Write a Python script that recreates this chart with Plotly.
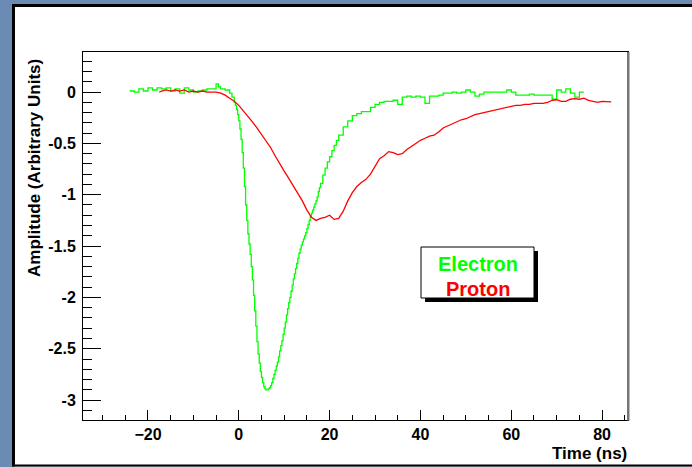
import plotly.graph_objects as go

# Electron pulse (ns, arbitrary units), drawn as a step histogram
electron_t = [-24, -23, -22, -21, -20, -19, -18, -17, -16, -15, -14, -13, -12, -11,
              -10, -9, -8, -7, -6, -5, -4.5, -4, -3, -2, -1.5,
              -1.0, -0.75, -0.5, -0.25, 0.0, 0.25, 0.5, 0.75, 1.0, 1.25, 1.5, 1.75,
              2.0, 2.25, 2.5, 2.75, 3.0, 3.25, 3.5, 3.75, 4.0, 4.25, 4.5, 4.75,
              5.0, 5.25, 5.5, 5.75, 6.0, 6.25, 6.5, 6.75, 7.0, 7.25, 7.5, 7.75,
              8.0, 8.25, 8.5, 8.75, 9.0, 9.25, 9.5, 9.75, 10.0, 10.25, 10.5, 10.75,
              11.0, 11.25, 11.5, 11.75, 12.0, 12.25, 12.5, 12.75, 13.0, 13.25, 13.5,
              13.75, 14.0, 14.25, 14.5, 14.75, 15.0, 15.25, 15.5, 15.75, 16.0, 16.25,
              16.5, 16.75, 17.0, 17.25, 17.5, 17.75, 18.0,
              18.5, 19, 19.5, 20, 20.5, 21, 21.5, 22, 23, 24, 25, 26, 27, 28, 29, 30,
              31, 32, 33, 34, 35, 36, 37, 38, 39, 40, 41, 42, 43, 44, 45, 46, 47, 48,
              49, 50, 51, 52, 53, 54, 55, 56, 57, 58, 59, 60, 61, 62, 63, 64, 65, 66,
              67, 68, 69, 70, 71, 72, 73, 74, 75, 76]
electron_amp = [0.01, 0.0, 0.03, 0.01, 0.04, 0.02, 0.04, 0.03, 0.04, 0.01, 0.03, -0.01,
                0.04, 0.02, 0.0, 0.01, 0.02, 0.03, 0.03, 0.08, 0.05, 0.03, 0.02, -0.01,
                -0.05,
                -0.10, -0.13, -0.17, -0.22, -0.28, -0.36, -0.46, -0.59, -0.74, -0.92,
                -1.10, -1.25, -1.38, -1.48, -1.58, -1.70, -1.83, -1.98, -2.13, -2.28,
                -2.43, -2.55, -2.64, -2.72, -2.78, -2.83, -2.87, -2.89, -2.90, -2.90,
                -2.89, -2.88, -2.86, -2.83, -2.79, -2.75, -2.71, -2.67, -2.63, -2.58,
                -2.52, -2.47, -2.42, -2.36, -2.30, -2.24, -2.17, -2.11, -2.05, -2.00,
                -1.94, -1.88, -1.82, -1.77, -1.72, -1.67, -1.62, -1.57, -1.53, -1.49,
                -1.46, -1.43, -1.40, -1.37, -1.33, -1.29, -1.25, -1.21, -1.18, -1.15,
                -1.12, -1.09, -1.06, -1.02, -0.97, -0.93, -0.89,
                -0.81, -0.74, -0.68, -0.63, -0.57, -0.52, -0.47, -0.42, -0.34, -0.28,
                -0.23, -0.21, -0.19, -0.19, -0.15, -0.12, -0.10, -0.09, -0.09, -0.08,
                -0.12, -0.05, -0.04, -0.05, -0.04, -0.05, -0.11, -0.04, -0.04, -0.03,
                -0.01, -0.01, 0.0, -0.01, 0.0, 0.02, 0.0, -0.04, -0.02, 0.0, 0.0, 0.0,
                0.0, 0.0, 0.02, 0.0, -0.03, -0.03, -0.03, -0.02, -0.03, -0.03, -0.03,
                -0.03, -0.07, 0.02, 0.0, 0.03, -0.01, -0.05, 0.0, 0.0]

# Proton pulse
proton_t = [-17.5, -17, -16, -15, -14, -13, -12, -11, -10, -9, -8, -7, -6, -5, -4,
            -3, -2, -1, 0, 1, 2, 3, 4, 5, 6, 7, 8, 9, 10, 11, 12, 13, 14, 15, 16,
            17, 18, 19, 20, 21, 22, 23, 24, 25, 26, 27, 28, 29, 30, 31, 32, 33, 34,
            35, 36, 37, 38, 39, 40, 41, 42, 43, 44, 45, 46, 47, 48, 49, 50, 51, 52,
            53, 54, 55, 56, 57, 58, 59, 60, 61, 62, 63, 64, 65, 66, 67, 68, 69, 70,
            71, 72, 73, 74, 75, 76, 77, 78, 79, 80, 81, 82]
proton_amp = [0.0, 0.01, 0.02, 0.01, 0.02, 0.01, 0.02, 0.0, 0.01, 0.0, 0.01, 0.0, 0.0,
              0.0, -0.01, -0.03, -0.06, -0.09, -0.13, -0.18, -0.23, -0.29, -0.35,
              -0.41, -0.47, -0.54, -0.62, -0.70, -0.77, -0.84, -0.91, -0.98, -1.06,
              -1.15, -1.22, -1.25, -1.23, -1.22, -1.20, -1.24, -1.23, -1.16, -1.06,
              -0.98, -0.92, -0.88, -0.85, -0.80, -0.72, -0.65, -0.62, -0.58, -0.59,
              -0.61, -0.60, -0.56, -0.53, -0.50, -0.47, -0.45, -0.43, -0.42, -0.39,
              -0.35, -0.33, -0.31, -0.29, -0.27, -0.26, -0.24, -0.22, -0.21, -0.20,
              -0.19, -0.18, -0.17, -0.16, -0.15, -0.14, -0.13, -0.13, -0.12, -0.12,
              -0.11, -0.11, -0.11, -0.10, -0.08, -0.075, -0.09, -0.09, -0.07, -0.065,
              -0.07, -0.06, -0.08, -0.09, -0.10, -0.09, -0.095, -0.095]

x_range = [-34.3, 85.7]
y_range = [-3.194, 0.39]
x_ticks = [-20, 0, 20, 40, 60, 80]
y_ticks = [0, -0.5, -1, -1.5, -2, -2.5, -3]
y_ticktext = ["0", "-0.5", "-1", "-1.5", "-2", "-2.5", "-3"]

FONT = "Liberation Sans, Arial, Helvetica, sans-serif"
BLUE = "#6a8cb4"

fig = go.Figure()
fig.add_trace(go.Scatter(x=electron_t, y=electron_amp, mode="lines",
                         line=dict(color="#00ff00", width=1.3, shape="hv"),
                         name="Electron", showlegend=False))
fig.add_trace(go.Scatter(x=proton_t, y=proton_amp, mode="lines",
                         line=dict(color="#ff0000", width=1.3, shape="linear"),
                         name="Proton", showlegend=False))

# plot area in pixels: x 83..628, y 52..420
L, R, T, B = 83, 628, 52, 420
W, H = 692, 467


def px(xp):
    return (xp - L) / (R - L)


def py(yp):
    return (B - yp) / (B - T)


def box(x0, x1, y0, y1, color, layer="below"):
    return dict(type="rect", xref="paper", yref="paper", layer=layer,
                x0=px(x0), x1=px(x1), y0=py(y0), y1=py(y1),
                fillcolor=color, line=dict(width=0))


shapes = [
    # blue surround on the left, top and bottom of the white canvas
    box(-10, 12, -10, H + 10, BLUE),
    box(-10, W + 10, -10, 4, BLUE),
    box(-10, W + 10, 466.5, H + 10, BLUE),
    # dark canvas border
    box(12, W + 10, 4, 7, "black"),
    box(12, W + 10, 464.5, 466.5, "black"),
    box(12, 15, 4, 466.5, "black"),
    # heavier grey right edge of the frame
    box(627, 629.5, T, B + 0.5, "#777777", layer="above"),
    # legend shadow and box
    dict(type="rect", xref="paper", yref="paper",
         x0=px(425), x1=px(538), y0=py(251), y1=py(302),
         fillcolor="black", line=dict(width=0)),
    dict(type="rect", xref="paper", yref="paper",
         x0=px(421), x1=px(534), y0=py(247), y1=py(298),
         fillcolor="white", line=dict(color="black", width=1)),
]

annotations = [
    dict(text="<b>Electron</b>", xref="paper", yref="paper", x=px(477.5), y=py(264),
         xanchor="center", yanchor="middle", showarrow=False,
         font=dict(family=FONT, size=20, color="#00ff00")),
    dict(text="<b>Proton</b>", xref="paper", yref="paper", x=px(477.5), y=py(289),
         xanchor="center", yanchor="middle", showarrow=False,
         font=dict(family=FONT, size=20, color="#ff0000")),
    dict(text="<b>Time (ns)</b>", xref="paper", yref="paper", x=px(629), y=py(442),
         xanchor="right", yanchor="top", showarrow=False,
         font=dict(family=FONT, size=17, color="black")),
    dict(text="<b>Amplitude (Arbitrary Units)</b>", xref="paper", yref="paper",
         x=px(34), y=py(57), xanchor="center", yanchor="top", textangle=-90,
         showarrow=False, font=dict(family=FONT, size=17, color="black")),
]

fig.update_layout(
    width=W, height=H,
    margin=dict(l=L, r=W - R, t=T, b=H - B),
    paper_bgcolor="white",
    plot_bgcolor="rgba(0,0,0,0)",
    shapes=shapes,
    annotations=annotations,
    showlegend=False,
)

fig.update_xaxes(
    range=x_range, tickvals=x_ticks, ticks="inside", ticklen=10, tickwidth=1,
    tickcolor="black", showgrid=False, zeroline=False,
    showline=True, linecolor="black", linewidth=1, mirror=True,
    tickfont=dict(family=FONT, size=16, color="black", weight="bold"),
    ticklabelstandoff=0,
    minor=dict(dtick=5, tick0=0, ticks="inside", ticklen=5, tickcolor="black",
               showgrid=False),
)
fig.update_yaxes(
    range=y_range, tickvals=y_ticks, ticktext=y_ticktext, ticks="inside",
    ticklen=18, tickwidth=1, tickcolor="black", showgrid=False, zeroline=False,
    showline=True, linecolor="black", linewidth=1, mirror=True,
    tickfont=dict(family=FONT, size=16, color="black", weight="bold"),
    ticklabelstandoff=3,
    minor=dict(dtick=0.1, tick0=0, ticks="inside", ticklen=9, tickcolor="black",
               showgrid=False),
)

fig.write_html("out.html")
